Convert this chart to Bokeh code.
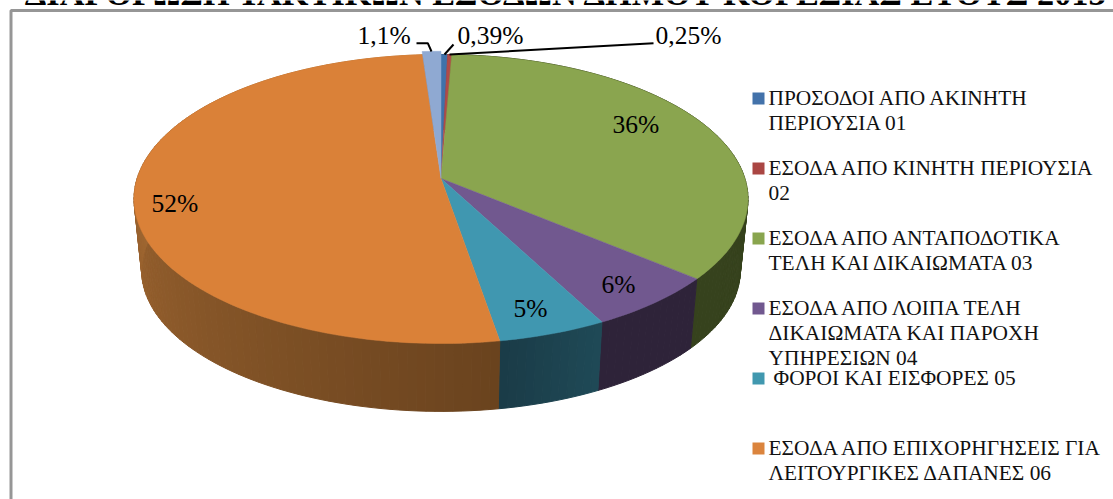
import math
from bokeh.plotting import figure
from bokeh.core.properties import value
from bokeh.embed import file_html
from bokeh.resources import INLINE

title = "ΔΙΑΡΘΡΩΣΗ ΤΑΚΤΙΚΩΝ ΕΣΟΔΩΝ ΔΗΜΟΥ ΚΟΡΕΣΙΑΣ ΕΤΟΥΣ 2013"
categories = [
    "ΠΡΟΣΟΔΟΙ ΑΠΟ ΑΚΙΝΗΤΗ\nΠΕΡΙΟΥΣΙΑ 01",
    "ΕΣΟΔΑ ΑΠΟ ΚΙΝΗΤΗ ΠΕΡΙΟΥΣΙΑ\n02",
    "ΕΣΟΔΑ ΑΠΟ ΑΝΤΑΠΟΔΟΤΙΚΑ\nΤΕΛΗ ΚΑΙ ΔΙΚΑΙΩΜΑΤΑ 03",
    "ΕΣΟΔΑ ΑΠΟ ΛΟΙΠΑ ΤΕΛΗ\nΔΙΚΑΙΩΜΑΤΑ ΚΑΙ ΠΑΡΟΧΗ\nΥΠΗΡΕΣΙΩΝ 04",
    " ΦΟΡΟΙ ΚΑΙ ΕΙΣΦΟΡΕΣ 05",
    "ΕΣΟΔΑ ΑΠΟ ΕΠΙΧΟΡΗΓΗΣΕΙΣ ΓΙΑ\nΛΕΙΤΟΥΡΓΙΚΕΣ ΔΑΠΑΝΕΣ 06",
    "",
]
values = [0.39, 0.25, 35.5, 6.2, 5.0, 51.56, 1.1]
labels = ["0,39%", "0,25%", "36%", "6%", "5%", "52%", "1,1%"]

top_colors = ["#3F72AA", "#B04A48", "#8AA54F", "#71588F", "#4097B0", "#DA8138", "#8FA9D2"]
legend_colors = ["#4372AA", "#AA4643", "#89A54E", "#71588F", "#4198AF", "#DB843D"]
side_start = ["#2a3f5f", "#5a2524", "#36421d", "#2e2339", "#1f4a57", "#6a431e", "#4a5a75"]
side_end = ["#2a3f5f", "#5a2524", "#36421d", "#2e2339", "#1a3b47", "#c98240", "#4a5a75"]

W, H = 1113, 499
CX, CY = 440.5, 178.0
A, B, K = 303.9, 141.6, 0.1419
SHRINK, DEPTH = 0.975, 72.0
EXPLODE = {6: 1.03}
FONT = value("Liberation Serif")


def rim(theta, r=1.0):
    X, Y = r * math.sin(theta), r * math.cos(theta)
    w = 1 + K * Y
    return A * X / w, -B * Y / w


def hex2rgb(c):
    return tuple(int(c[i:i + 2], 16) for i in (1, 3, 5))


def mix(c1, c2, t):
    a, b = hex2rgb(c1), hex2rgb(c2)
    return "#%02x%02x%02x" % tuple(round(a[i] + (b[i] - a[i]) * t) for i in range(3))


p = figure(width=W, height=H, x_range=(0, W), y_range=(H, 0),
           toolbar_location=None, output_backend="svg", min_border=0,
           outline_line_color=None, background_fill_color="white")
p.axis.visible = False
p.grid.visible = False

# frame of the chart area
p.line([1200, 10.5, 10.5], [10, 10, 520], line_color="#969696", line_width=3)

# title (cut off by the top of the picture in the source)
p.text([566], [-7.5], text=[title], text_font=FONT, text_font_style="bold",
       text_font_size="34.3px", text_align="center", text_baseline="alphabetic",
       text_color="#000000")

total = sum(values)
sx, sy, scol = [], [], []
tx, ty, tcol = [], [], []
cum = 0.0
for i, v in enumerate(values):
    a0 = cum / total * 2 * math.pi
    cum += v
    a1 = cum / total * 2 * math.pi
    n = max(2, int(math.degrees(a1 - a0) / 1.5))
    angs = [a0 + (a1 - a0) * j / n for j in range(n + 1)]
    r = EXPLODE.get(i, 1.0)
    for j in range(n):
        t = (j + 0.5) / n
        x0, y0 = rim(angs[j])
        x1, y1 = rim(angs[j + 1])
        sx.append([CX + x0, CX + x1, CX + SHRINK * x1, CX + SHRINK * x0])
        sy.append([CY + y0, CY + y1, CY + DEPTH + SHRINK * y1, CY + DEPTH + SHRINK * y0])
        scol.append(mix(side_start[i], side_end[i], t))
    pts = [rim(a, r) for a in angs]
    tx.append([CX] + [CX + q[0] for q in pts])
    ty.append([CY] + [CY + q[1] for q in pts])
    tcol.append(top_colors[i])

p.patches(sx, sy, fill_color=scol, line_color=scol, line_width=1)
p.patches(tx, ty, fill_color=tcol, line_color=tcol, line_width=0.5)

# leader lines
p.line([416, 427.3, 431], [42.7, 42.7, 51], line_color="black", line_width=2)
p.line([453, 444], [44, 54], line_color="black", line_width=2)
p.line([653, 449], [42.7, 54], line_color="black", line_width=2)

# data labels
label_x = [457, 655, 612, 601, 513, 151, 357]
label_y = [35, 35, 124, 284, 308, 203, 35]
p.text(label_x, label_y, text=labels, text_font=FONT, text_font_size="25.5px",
       text_align="left", text_baseline="middle", text_color="#000000")

# legend
legend_centers = [98, 168, 238, 308, 378, 448]
p.rect([758] * 6, legend_centers, width=12, height=12,
       fill_color=legend_colors, line_color=None)
LINE = 25
lx, ly, lt = [], [], []
for yc, cat in zip(legend_centers, categories):
    for k, line in enumerate(cat.split("\n")):
        if line.startswith(" "):
            lx.append(773)
            line = line.strip()
        else:
            lx.append(768)
        ly.append(yc - 1 + k * LINE)
        lt.append(line)
p.text(lx, ly, text=lt, text_font=FONT, text_font_size="21.4px",
       text_align="left", text_baseline="middle", text_color="#111111")

open("out.html", "w").write(file_html(p, INLINE))
